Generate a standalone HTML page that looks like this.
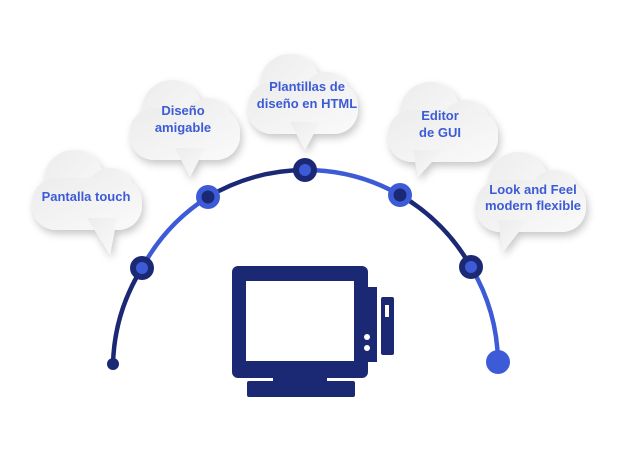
<!DOCTYPE html>
<html><head><meta charset="utf-8"><style>
html,body{margin:0;padding:0;background:#fff;}
svg{display:block}
text{font-family:"Liberation Sans",sans-serif;font-weight:bold;fill:#3d5bd6;font-size:13px;text-anchor:middle}
</style></head><body>
<svg width="625" height="471" viewBox="0 0 625 471" xmlns="http://www.w3.org/2000/svg">
<defs>
<filter id="sh" x="-30%" y="-30%" width="160%" height="160%">
<feDropShadow dx="2" dy="4" stdDeviation="4" flood-color="#000" flood-opacity="0.22"/>
</filter>
<linearGradient id="cg" x1="0" y1="0" x2="1" y2="1">
<stop offset="0" stop-color="#ececec"/><stop offset="1" stop-color="#fafafa"/>
</linearGradient>
<g id="cloud">
<circle cx="42" cy="32" r="30"/>
<circle cx="78" cy="44" r="24"/>
<rect x="0" y="30" width="110" height="52" rx="24"/>
</g>
</defs>

<!-- clouds -->
<g fill="url(#cg)" filter="url(#sh)">
<g transform="translate(32,148)"><use href="#cloud"/><polygon points="55,70 85,70 78,107"/></g>
<g transform="translate(130,78)"><use href="#cloud"/><polygon points="45,70 75,70 60,99"/></g>
<g transform="translate(248,52)"><use href="#cloud"/><polygon points="42,70 72,70 57,98"/></g>
<g transform="translate(388,80)"><use href="#cloud"/><polygon points="25,70 55,70 30,97"/></g>
<g transform="translate(476,150)"><use href="#cloud"/><polygon points="22,70 52,70 27,102"/></g>
</g>
<text x="86" y="201">Pantalla touch</text>
<text x="183" y="115">Diseño</text><text x="183" y="132">amigable</text>
<text x="307" y="91">Plantillas de</text><text x="307" y="108">diseño en HTML</text>
<text x="440" y="120">Editor</text><text x="440" y="137">de GUI</text>
<text x="533" y="194">Look and Feel</text><text x="533" y="210">modern flexible</text>

<!-- arc -->
<g fill="none" stroke-width="4.5">
<path d="M113,364 A191,191 0 0 1 142,268" stroke="#1b2874"/>
<path d="M142,268 A191,191 0 0 1 208,197" stroke="#3d5bd6"/>
<path d="M208,197 A191,191 0 0 1 305,170" stroke="#1b2874"/>
<path d="M305,170 A191,191 0 0 1 400,195" stroke="#3d5bd6"/>
<path d="M400,195 A191,191 0 0 1 471,267" stroke="#1b2874"/>
<path d="M471,267 A191,191 0 0 1 498,362" stroke="#3d5bd6"/>
</g>
<circle cx="113" cy="364" r="6" fill="#1b2874"/>
<circle cx="498" cy="362" r="12" fill="#3d5bd6"/>
<circle cx="142" cy="268" r="12" fill="#1b2874"/><circle cx="142" cy="268" r="6" fill="#3d5bd6"/>
<circle cx="208" cy="197" r="12" fill="#3d5bd6"/><circle cx="208" cy="197" r="6.5" fill="#1b2874"/>
<circle cx="305" cy="170" r="12" fill="#1b2874"/><circle cx="305" cy="170" r="6" fill="#3d5bd6"/>
<circle cx="400" cy="195" r="12" fill="#3d5bd6"/><circle cx="400" cy="195" r="6.5" fill="#1b2874"/>
<circle cx="471" cy="267" r="12" fill="#1b2874"/><circle cx="471" cy="267" r="6" fill="#3d5bd6"/>

<!-- monitor -->
<g fill="#1b2874">
<rect x="232" y="266" width="136" height="112" rx="6"/>
<rect x="365" y="287" width="12" height="75"/>
<rect x="273" y="376" width="54" height="6"/>
<rect x="247" y="381" width="108" height="16" rx="2"/>
<rect x="381" y="297" width="13" height="58" rx="2"/>
</g>
<rect x="246" y="281" width="108" height="80" fill="#fff"/>
<rect x="385" y="305" width="4" height="12" fill="#fff"/>
<circle cx="367" cy="337" r="3" fill="#fff"/>
<circle cx="367" cy="348" r="3" fill="#fff"/>
</svg>
</body></html>
